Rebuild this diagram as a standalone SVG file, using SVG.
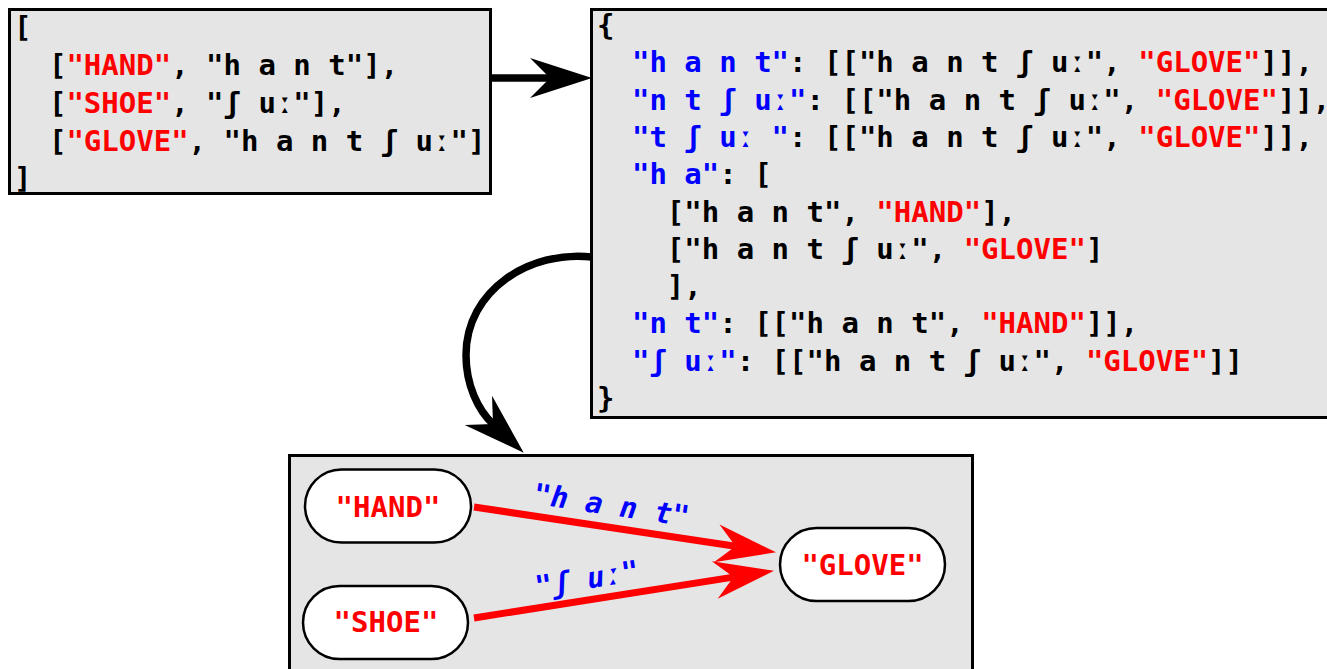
<svg xmlns="http://www.w3.org/2000/svg" width="1327" height="669" viewBox="0 0 1327 669">
<style>
.box{fill:#e5e5e5;stroke:#000;stroke-width:3}
.pill{fill:#fff;stroke:#000;stroke-width:2.5}
.code{font-family:"DejaVu Sans Mono","Liberation Mono",monospace;font-weight:bold;font-size:29px;fill:#000}
.r{fill:#ff0000}
.b{fill:#0000ff}
.lbl{font-family:"DejaVu Sans Mono","Liberation Mono",monospace;font-weight:bold;font-style:oblique;font-size:29px;fill:#0000ff}
.nt{font-family:"DejaVu Sans Mono","Liberation Mono",monospace;font-weight:bold;font-size:29px;fill:#ff0000;text-anchor:middle}
.blk{fill:none;stroke:#000;stroke-width:7.5}
.red{fill:none;stroke:#ff0000;stroke-width:7}
</style>
<defs>
<marker id="hb" markerUnits="userSpaceOnUse" markerWidth="62" markerHeight="40" viewBox="0 0 62 40" refX="20" refY="20" orient="auto" overflow="visible">
<path d="M62,20 L0,0 L20,20 L0,40 Z" fill="#000"/>
</marker>
<marker id="hr" markerUnits="userSpaceOnUse" markerWidth="60" markerHeight="38" viewBox="0 0 60 38" refX="19" refY="19" orient="auto" overflow="visible">
<path d="M60,19 L0,0 L19,19 L0,38 Z" fill="#ff0000"/>
</marker>
</defs>

<g id="node-list">
<rect class="box" x="9.5" y="9.5" width="481" height="184"/>
<text class="code" xml:space="preserve" x="14" y="37">[</text>
<text class="code" xml:space="preserve" x="14" y="75">  [<tspan class="r">"HAND"</tspan>, "h a n t"],</text>
<text class="code" xml:space="preserve" x="14" y="113">  [<tspan class="r">"SHOE"</tspan>, "ʃ uː"],</text>
<text class="code" xml:space="preserve" x="14" y="151">  [<tspan class="r">"GLOVE"</tspan>, "h a n t ʃ uː"]</text>
<text class="code" xml:space="preserve" x="14" y="188">]</text>
</g>

<g id="node-dict">
<rect class="box" x="591.5" y="9.5" width="800" height="408"/>
<text class="code" xml:space="preserve" x="597" y="35">{</text>
<text class="code" xml:space="preserve" x="597" y="72.3">  <tspan class="b">"h a n t"</tspan>: [["h a n t ʃ uː", <tspan class="r">"GLOVE"</tspan>]],</text>
<text class="code" xml:space="preserve" x="597" y="109.6">  <tspan class="b">"n t ʃ uː"</tspan>: [["h a n t ʃ uː", <tspan class="r">"GLOVE"</tspan>]],</text>
<text class="code" xml:space="preserve" x="597" y="146.9">  <tspan class="b">"t ʃ uː "</tspan>: [["h a n t ʃ uː", <tspan class="r">"GLOVE"</tspan>]],</text>
<text class="code" xml:space="preserve" x="597" y="184.2">  <tspan class="b">"h a"</tspan>: [</text>
<text class="code" xml:space="preserve" x="597" y="221.5">    ["h a n t", <tspan class="r">"HAND"</tspan>],</text>
<text class="code" xml:space="preserve" x="597" y="258.8">    ["h a n t ʃ uː", <tspan class="r">"GLOVE"</tspan>]</text>
<text class="code" xml:space="preserve" x="597" y="296.1">    ],</text>
<text class="code" xml:space="preserve" x="597" y="333.4">  <tspan class="b">"n t"</tspan>: [["h a n t", <tspan class="r">"HAND"</tspan>]],</text>
<text class="code" xml:space="preserve" x="597" y="370.7">  <tspan class="b">"ʃ uː"</tspan>: [["h a n t ʃ uː", <tspan class="r">"GLOVE"</tspan>]]</text>
<text class="code" xml:space="preserve" x="597" y="408">}</text>
</g>

<g id="node-graph">
<rect class="box" x="289.5" y="455.5" width="683" height="230"/>
</g>
<g id="node-hand">
<rect class="pill" x="305" y="469.5" width="166" height="73" rx="36.5"/>
<text class="nt" x="388" y="517">"HAND"</text>
</g>
<g id="node-shoe">
<rect class="pill" x="303" y="586" width="165" height="73" rx="36.5"/>
<text class="nt" x="386" y="632">"SHOE"</text>
</g>
<g id="node-glove">
<rect class="pill" x="780" y="528" width="165" height="73" rx="36.5"/>
<text class="nt" x="862.5" y="575">"GLOVE"</text>
</g>

<g id="connectors">
<line class="blk" x1="490" y1="78" x2="550" y2="78" marker-end="url(#hb)"/>
<path class="blk" d="M592,257 C530,250 466,290 466,355 C466,385 478,410 493,424" marker-end="url(#hb)"/>
<line class="red" x1="474" y1="507" x2="735.5" y2="546.2" marker-end="url(#hr)"/>
<line class="red" x1="474" y1="618" x2="733.5" y2="577.1" marker-end="url(#hr)"/>
<text class="lbl" xml:space="preserve" x="610" y="515" text-anchor="middle" transform="rotate(8.5 610 515)">"h a n t"</text>
<text class="lbl" xml:space="preserve" x="588.5" y="588.5" text-anchor="middle" transform="rotate(-9 588.5 588.5)">"ʃ uː"</text>
</g>
</svg>
